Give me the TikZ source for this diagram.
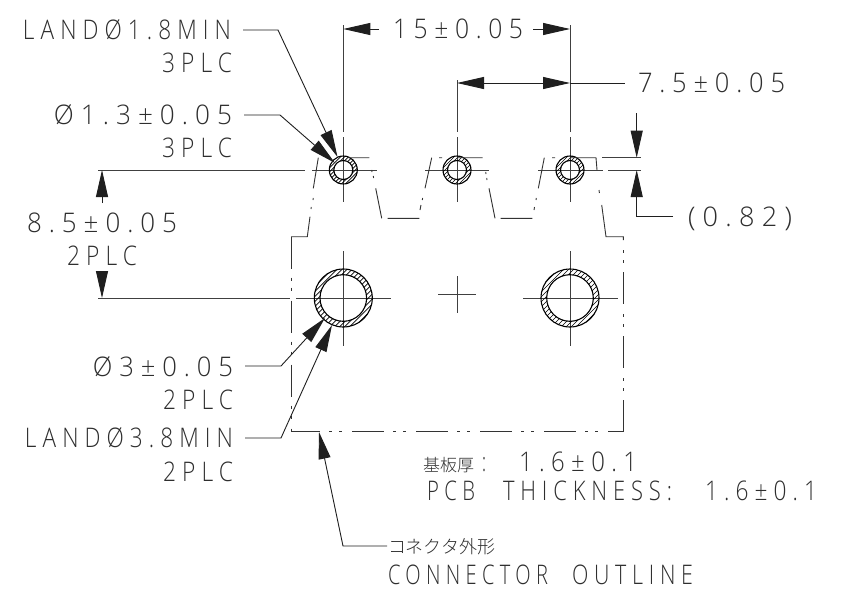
\documentclass[tikz,border=0pt]{standalone}
\usepackage{fontspec}
\usepackage{graphicx}
\usetikzlibrary{arrows.meta,calc}
\setmainfont{Open Sans}
\newfontfamily\dwg[FakeStretch=0.82,LetterSpace=22]{Open Sans Light}
\newfontfamily\cjkf{Noto Sans CJK JP Light}
\newcommand{\fitl}[2]{\resizebox{#1pt}{19.3pt}{\rule{0pt}{19.3pt}\smash{\fontsize{27pt}{27pt}\selectfont\dwg #2}}}
\tikzset{
  txt/.style={inner sep=0pt,outer sep=0pt,text=black!82},
  ln/.style={draw=black!88,line width=0.9pt},
  thin ln/.style={draw=black!75,line width=0.85pt},
  dimarrow/.style={ln,-{Triangle[length=27pt,width=12pt]}},
  dimboth/.style={ln,{Triangle[length=27pt,width=12pt]}-{Triangle[length=27pt,width=12pt]}},
  hole/.style={draw=black,line width=1.1pt},
  hatchln/.style={draw=black,line width=0.65pt},
  phantom/.style={draw=black!80,line width=0.9pt,dash pattern=on 32pt off 9pt on 3pt off 7pt on 3pt off 10pt},
  outl/.style={draw=black!80,line width=0.9pt}
}
\newcommand{\holering}[4]{%
  \begin{scope}[even odd rule]
    \clip (#1) circle[radius=#2] (#1) circle[radius=#3];
    \foreach \d in {-40,-35,...,40}{
      \pgfmathsetmacro{\dd}{\d*#4/5}
      \draw[hatchln] ($(#1)+(\dd-40,40)$) -- ($(#1)+(\dd+40,-40)$);
    }
  \end{scope}
  \draw[hole] (#1) circle[radius=#2] (#1) circle[radius=#3];
}
\begin{document}
\begin{tikzpicture}[x=1pt,y=-1pt]
\useasboundingbox[fill=white] (0,0) rectangle (859,597);
% hole centres
\coordinate (h1) at (343.3,170);
\coordinate (h2) at (457,170);
\coordinate (h3) at (570,170);
\coordinate (b1) at (343.3,298);
\coordinate (b2) at (570,298);
\coordinate (mid) at (457,294.5);
% texts
\node[txt,anchor=base east] (tLandA) at (231,39.5) {\fitl{208}{LANDØ1.8MIN}};
\node[txt,anchor=base east] (tPlcA) at (232,72.5) {\fitl{70}{3PLC}};
\node[txt,anchor=base east] (tDiaA) at (232,124.5) {\fitl{178}{Ø1.3±0.05}};
\node[txt,anchor=base east] (tPlcB) at (232,157.5) {\fitl{70}{3PLC}};
\node[txt,anchor=base west] (tDimC) at (27,232.5) {\fitl{150}{8.5±0.05}};
\node[txt,anchor=base west] (tPlcC) at (67,265.5) {\fitl{70}{2PLC}};
\node[txt,anchor=base east] (tDiaD) at (233,376.5) {\fitl{140}{Ø3±0.05}};
\node[txt,anchor=base east] (tPlcD) at (233,409.5) {\fitl{70}{2PLC}};
\node[txt,anchor=base east] (tLandE) at (233,447.5) {\fitl{208}{LANDØ3.8MIN}};
\node[txt,anchor=base east] (tPlcE) at (233,481.5) {\fitl{70}{2PLC}};
\node[txt,anchor=base west] (tDim15) at (393,38.5) {\fitl{130}{15±0.05}};
\node[txt,anchor=base west] (tDim75) at (638,92.5) {\fitl{147}{7.5±0.05}};
\node[txt,anchor=base west] (tGap) at (688,226) {\fitl{104}{(0.82)}};
\node[txt,anchor=base west] (tPcbJ) at (423,471) {{\fontsize{17pt}{17pt}\selectfont\cjkf 基板厚}\hspace{8pt}\fitl{4}{:}\hspace{33pt}\fitl{118}{1.6±0.1}};
\node[txt,anchor=base west] (tPcbE) at (427,500.5) {\fitl{48}{PCB}\hspace{28pt}\fitl{169}{THICKNESS:}\hspace{33pt}\fitl{112}{1.6±0.1}};
\node[txt,anchor=base west] (tConJ) at (388,553) {\resizebox{107pt}{!}{\fontsize{18pt}{18pt}\selectfont\cjkf コネクタ外形}};
\node[txt,anchor=base west] (tConE) at (388,584.5) {\fitl{160}{CONNECTOR}\hspace{24pt}\fitl{121}{OUTLINE}};
% centre lines and extension lines
\coordinate (e1t) at (343.3,25); \coordinate (e1b) at (343.3,132);
\coordinate (e2t) at (457,80);   \coordinate (e2b) at (457,132);
\coordinate (e3t) at (570,25);   \coordinate (e3b) at (570,132);
\draw[thin ln] (e1t)--(e1b) (e2t)--(e2b) (e3t)--(e3b);
\draw[thin ln] (343.3,137)--(343.3,202) (457,137)--(457,202) (570,137)--(570,202);
\draw[thin ln] (312,170)--(377,170) (425,170)--(489,170) (538,170)--(603,170);
\coordinate (dl1) at (98,170); \coordinate (dr1) at (305,170);
\coordinate (dl2) at (98,298); \coordinate (dr2) at (289.5,298);
\draw[thin ln] (dl1)--(dr1) (dl2)--(dr2);
\draw[thin ln] (296,298)--(391,298) (523,298)--(618,298);
\draw[thin ln] (343.3,251)--(343.3,346) (570,251)--(570,346);
\draw[thin ln] (438,294.5)--(476,294.5) (457,276)--(457,313);
\draw[thin ln] (602,157.7)--(641,157.7) (608,170)--(641,170);
% holes
\holering{h1}{14}{9.5}{4}
\holering{h2}{14}{9.5}{4}
\holering{h3}{14}{9.5}{4}
\holering{b1}{29}{23.3}{5}
\holering{b2}{29}{23.3}{5}
% connector outline
\draw[phantom] (291,236.7)--(291,431.7)--(623.3,431.7);
\draw[phantom] (623.3,431.7)--(623.3,240);
\draw[outl] (291,236.7)--(307.3,236.7)--(310,216.7)
 (311,209)--(311.3,207) (313,200)--(313.3,198)
 (313.3,188.3)--(318.3,157.7)
 (348.3,157.7)--(369.3,157.7)
 (371.7,170)--(372,172) (373.3,176)--(373.6,178)
 (375.7,188.3)--(381.7,218.3)
 (387.7,218.3)--(419.3,218.3)
 (420,210)--(421,205) (422.3,200)--(422.6,198)
 (425,188.3)--(431.7,157.7)
 (439,157.7)--(442,157.7)
 (457,157.7)--(482.7,157.7)
 (485.7,172)--(486,174) (486.7,178)--(487,180)
 (489,188.3)--(495,218.3)
 (500.7,218.3)--(532.3,218.3)
 (534,210)--(534.5,207) (536,200)--(536.3,198)
 (538.3,188.3)--(544.3,157.7)
 (552,157.7)--(555,157.7)
 (570,157.7)--(596,157.7)--(597,170)
 (599,190)--(599.4,193)
 (601.7,205)--(606,236.7)--(623.3,236.7)--(623.3,240);
% dimensions
\coordinate (a1) at (379,29); \coordinate (a1t) at (343.3,29);
\coordinate (a2) at (533,29); \coordinate (a2t) at (570,29);
\draw[dimarrow] (a1)--(a1t);
\draw[dimarrow] (a2)--(a2t);
\coordinate (a3) at (457,83); \coordinate (a4) at (570,83); \coordinate (a5) at (625,83);
\draw[dimboth] (a3)--(a4);
\draw[ln] (a4)--(a5);
\coordinate (a6) at (636.7,113); \coordinate (a6t) at (636.7,157.7);
\draw[dimarrow] (a6)--(a6t);
\coordinate (a7) at (673,216); \coordinate (a7c) at (636.7,216); \coordinate (a7t) at (636.7,170);
\draw[dimarrow] (a7)--(a7c)--(a7t);
\coordinate (a8) at (102,203); \coordinate (a8t) at (102,170);
\draw[dimarrow] (a8)--(a8t);
\coordinate (a9) at (102,272); \coordinate (a9t) at (102,298);
\draw[dimarrow] (a9)--(a9t);
% leaders
\coordinate (l1a) at (243,30); \coordinate (l1b) at (278,30); \coordinate (l1t) at (337.5,157);
\draw[dimarrow] (l1a)--(l1b)--(l1t);
\coordinate (l2a) at (244,115); \coordinate (l2b) at (280,115); \coordinate (l2t) at (335,163);
\draw[dimarrow] (l2a)--(l2b)--(l2t);
\coordinate (l3a) at (245,366); \coordinate (l3b) at (281,366); \coordinate (l3t) at (325,318);
\draw[dimarrow] (l3a)--(l3b)--(l3t);
\coordinate (l4a) at (245,438); \coordinate (l4b) at (281,438); \coordinate (l4t) at (332,325);
\draw[dimarrow] (l4a)--(l4b)--(l4t);
\coordinate (l5a) at (387,546); \coordinate (l5b) at (343,546); \coordinate (l5t) at (319,432);
\draw[dimarrow] (l5a)--(l5b)--(l5t);
\end{tikzpicture}
\end{document}
